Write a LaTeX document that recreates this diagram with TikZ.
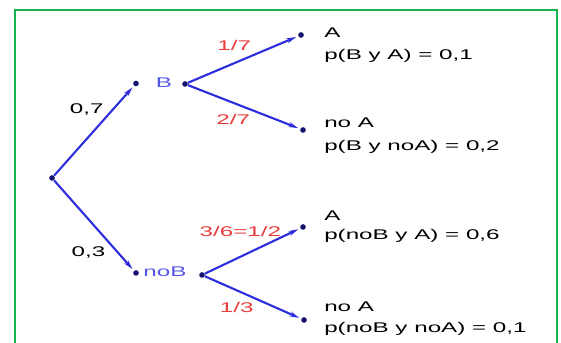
\documentclass[tikz,border=0pt]{standalone}
\usepackage{fontspec}
\setmainfont{Liberation Sans}[FakeStretch=1.72]
\usepackage{tikz}
\usetikzlibrary{arrows.meta}

\definecolor{arrowblue}{RGB}{45,45,220}
\definecolor{eventblue}{RGB}{85,85,230}
\definecolor{probred}{RGB}{235,60,60}
\definecolor{dotnavy}{RGB}{20,20,110}
\definecolor{framegreen}{RGB}{20,180,80}

\begin{document}
\begin{tikzpicture}[
    >={Stealth[length=7pt,width=3.6pt]},
    font=\fontsize{10}{12}\selectfont,
    dot/.style={circle,fill=dotnavy,inner sep=0pt,minimum size=4pt},
    branch/.style={->,draw=arrowblue,line width=1.5pt,shorten >=1.5pt},
    prob/.style={text=probred,inner sep=0pt},
    event/.style={text=eventblue,inner sep=0pt},
    result/.style={anchor=base west,inner sep=0pt}
]
\useasboundingbox (0,0) rectangle (14.025,8.575);

% Frame
\draw[framegreen,line width=1.4pt] (0.375,-0.3) rectangle (13.925,8.325);

% Dots
\node[dot] (root) at (1.3,4.125) {};
\node[dot] (bIn) at (3.4,6.4875) {};
\node[dot] (bOut) at (4.625,6.475) {};
\node[dot] (nbIn) at (3.4,1.75) {};
\node[dot] (nbOut) at (5.05,1.7) {};
\node[dot] (a1) at (7.525,7.7) {};
\node[dot] (na1) at (7.575,5.325) {};
\node[dot] (a2) at (7.575,2.9) {};
\node[dot] (na2) at (7.6,0.575) {};

% Events
\node[event] (bLbl) at (4.1,6.5) {B};
\node[event] (nbLbl) at (4.125,1.775) {noB};

% First branches
\draw[branch] (root) -- (bIn);
\draw[branch] (root) -- (nbIn);
\node (p7) at (2.17,5.84) {0,7};
\node (p3) at (2.21,2.26) {0,3};

% Second branches
\draw[branch] (bOut) -- (a1);
\draw[branch] (bOut) -- (na1);
\draw[branch] (nbOut) -- (a2);
\draw[branch] (nbOut) -- (na2);
\node[prob] (q17) at (5.855,7.43) {1/7};
\node[prob] (q27) at (5.83,5.595) {2/7};
\node[prob] (q36) at (6.01,2.80) {3/6=1/2};
\node[prob] (q13) at (5.92,0.88) {1/3};

% Results
\node[result] (r1) at (8.1,7.64) {A};
\node[result] (r1p) at (8.1,7.08) {p(B y A) = 0,1};
\node[result] (r2) at (8.1,5.39) {no A};
\node[result] (r2p) at (8.1,4.81) {p(B y noA) = 0,2};
\node[result] (r3) at (8.1,3.06) {A};
\node[result] (r3p) at (8.1,2.575) {p(noB y A) = 0,6};
\node[result] (r4) at (8.1,0.78) {no A};
\node[result] (r4p) at (8.1,0.25) {p(noB y noA) = 0,1};

\end{tikzpicture}
\end{document}
